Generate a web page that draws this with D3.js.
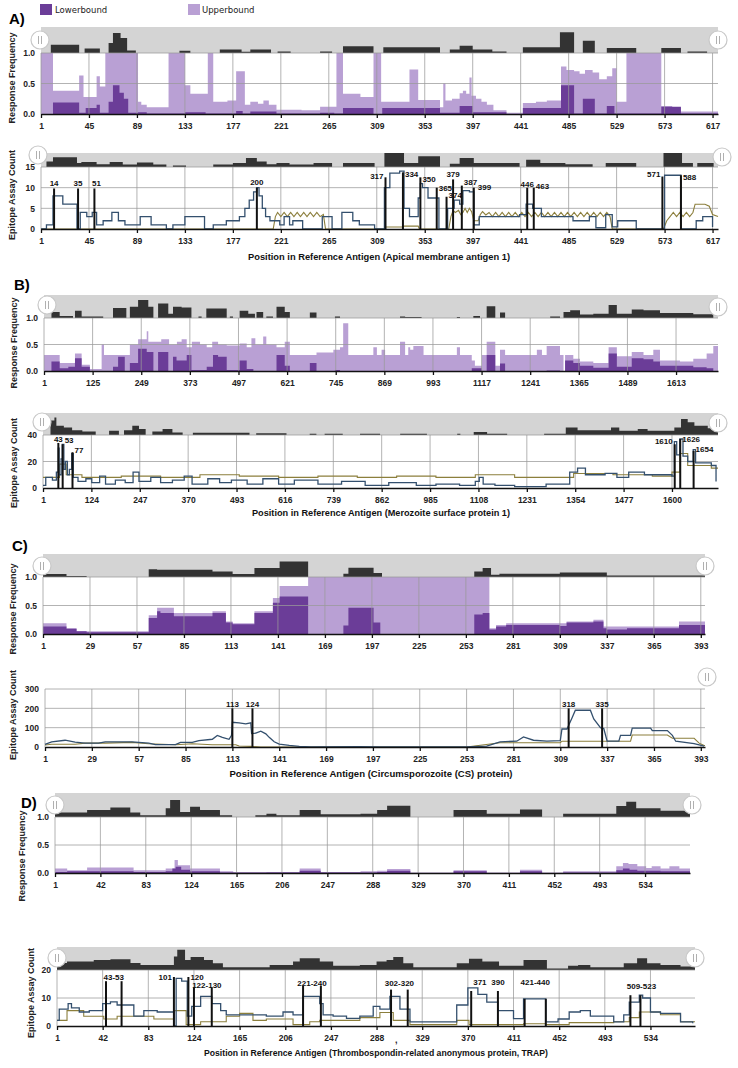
<!DOCTYPE html>
<html><head><meta charset="utf-8">
<script src="https://cdn.jsdelivr.net/npm/d3@7"></script>
<style>body{margin:0;background:#fff}</style>
</head><body><script>
// ---------------- DATA ----------------
// Panel A – Apical membrane antigen 1
const aXTicks = [1,45,89,133,177,221,265,309,353,397,441,485,529,573,617];
const aUpper = [[1,1.0],[12,0.38],[36,0.63],[40,0.28],[52,0.62],[55,0.45],[60,1.0],[90,0.2],[93,0.15],[98,0.11],[118,1.0],[133,0.47],[138,0.33],[154,1.0],[159,0.2],[172,0.22],[180,0.7],[188,0.15],[193,0.2],[200,0.17],[205,0.22],[210,0.15],[217,0.07],[240,0.06],[257,0.12],[272,1.0],[278,0.33],[294,0.28],[306,1.0],[313,0.2],[339,0.73],[347,0.23],[367,0.11],[370,0.5],[372,0.22],[378,0.25],[385,0.34],[388,0.38],[391,0.33],[394,0.6],[396,0.3],[400,0.25],[405,0.2],[410,0.15],[416,0.06],[428,0.02],[443,0.18],[455,0.2],[465,0.22],[478,0.78],[483,0.72],[490,0.7],[495,0.66],[500,0.72],[507,0.68],[513,0.57],[520,0.62],[525,0.75],[529,0.2],[538,1.0],[570,0.13],[580,0.1],[588,0.04]];
const aLower = [[1,0],[12,0.19],[36,0.02],[42,0.1],[52,0.15],[55,0.02],[63,0.2],[67,0.47],[73,0.35],[77,0.25],[81,0.02],[90,0.03],[98,0.01],[133,0.03],[152,0.01],[180,0.05],[186,0.01],[193,0.04],[217,0.01],[257,0.02],[270,0.01],[278,0.1],[306,0],[314,0.1],[367,0.02],[385,0.13],[397,0.03],[428,0],[443,0.1],[478,0.47],[490,0.01],[498,0.25],[509,0.01],[520,0.13],[527,0.01],[570,0.12],[588,0.01]];
const aFreqOverview = [[1,0],[10,0.32],[36,0],[41,0.17],[55,0],[63,0.38],[67,0.77],[74,0.58],[80,0.1],[88,0],[128,0.09],[138,0],[165,0.13],[185,0.05],[193,0.13],[212,0],[218,0.06],[230,0],[257,0.06],[268,0],[278,0.26],[306,0],[315,0.22],[367,0],[376,0.13],[385,0.28],[397,0.13],[415,0.06],[428,0],[443,0.22],[477,0.8],[490,0],[498,0.47],[509,0],[520,0.19],[547,0],[570,0.19],[588,0],[594,0.06],[612,0]];
const aCountOverview = [[1,0],[6,0.4],[12,0.69],[34,0.29],[38,0.36],[52,0.2],[64,0.36],[76,0.17],[89,0.33],[104,0.17],[116,0],[122,0.1],[134,0],[159,0.17],[177,0.29],[189,0.64],[199,0.4],[208,0.2],[217,0.29],[229,0.17],[251,0.29],[268,0],[278,0.29],[307,0],[316,1.0],[334,0.29],[347,0.76],[367,0],[376,0.24],[385,0.64],[398,0.29],[440,0],[446,0.52],[459,0.29],[482,0.2],[507,0],[519,0.29],[547,0],[572,1.0],[589,0.29],[599,0],[603,0.29],[618,0]];
const aBlue = [[1,0],[6,1],[12,8],[21,6],[34,0],[37,4],[43,3],[48,4],[52,1],[58,2],[66,4],[72,2],[78,1],[92,3],[102,1],[116,0],[122,1],[133,3],[151,0],[159,1],[171,2],[183,3],[188,5],[192,7],[196,9],[199,10],[201,8],[204,5],[207,3],[211,2],[220,1],[224,3],[229,1],[232,2],[241,0],[259,3],[268,0],[277,4],[287,2],[293,1],[307,0],[316,10],[321,13.5],[330,14],[334,5],[339,3],[347,7.5],[349,11],[351,10],[356,7.5],[366,0],[374,5],[380,7],[385,6],[388,9.3],[394,9],[398,1],[403,3],[440,3.5],[446,6],[452,5],[460,3],[489,2],[504,3],[510,0.3],[519,3.5],[525,0.5],[530,2],[547,0],[573,13],[588,0],[602,2],[608,3],[617,0.5]];
const aOlive = [[1,0],[214,0],[216,3],[218,4],[221,3],[224,4],[227,3],[230,4],[233,3],[236,4],[239,3],[242,4],[245,3],[248,4],[251,3],[254,4],[257,3],[260,3.5],[262,0],[316,0],[317,0.5],[333,0.5],[334,0.7],[347,0.7],[348,0],[375,0],[377,3],[379,4.5],[381,4],[384,4.5],[386,3.5],[388,4],[390,5],[392,4],[394,5],[396,4.2],[398,2],[402,2],[404,3.5],[406,4.2],[409,3.4],[412,4],[415,3],[418,4],[421,3],[424,4],[427,3],[430,4],[433,3],[436,4],[439,3],[442,4],[445,3],[448,4],[451,3],[454,4],[457,3],[460,4],[463,3],[466,4],[469,3],[472,4],[475,3],[478,4],[481,3],[484,4],[487,3],[490,4],[493,3],[496,4],[499,3],[502,4],[505,3],[508,4],[511,3],[514,4],[517,3],[520,4],[523,3],[525,0],[572,0],[575,2],[578,3],[581,4],[584,3],[587,4],[590,3],[593,4],[596,3],[599,4],[601,6],[610,6],[614,5.5],[617,3.5],[622,3]];
const aPeakLabel = ["14","35","51","200","317","334","350","365","374","379","387","399","446","463","571","588"];
const aPeakPos   = [13,35,50,199,317,333,349,364,373,379,387,398,447,453,571,588];
const aPeakTop   = [9.8,9.8,9.8,10,12.5,13.7,12.5,10,7.8,12,10.5,10,10,10,12.7,13];
const aPeakLevel = [11.2,11.2,11.2,11.4,12.7,13.3,12,9.8,8.1,13.3,11.3,10.2,10.9,10.4,13.2,12.5];

// Panel B – Merozoite surface protein 1
const bFreqXTicks = [1,125,249,373,497,621,745,869,993,1117,1241,1365,1489,1613];
const bCountXTicks = [1,124,247,370,493,616,739,862,985,1108,1231,1354,1477,1600];
const bUpper = [[1,0.3],[41,0.15],[80,0.33],[97,0.12],[118,0.04],[148,0.5],[154,0.3],[220,0.5],[241,0.6],[263,0.75],[267,0.55],[300,0.6],[320,0.5],[340,0.55],[352,0.6],[365,0.45],[378,0.55],[399,0.5],[416,0.45],[430,0.55],[445,0.5],[467,0.48],[500,0.52],[518,0.45],[530,0.62],[540,0.5],[560,0.65],[568,0.5],[594,0.45],[615,0.55],[628,0.3],[679,0.3],[696,0.35],[739,0.4],[756,0.45],[764,0.9],[777,0.3],[841,0.45],[850,0.3],[862,0.4],[871,0.3],[909,0.55],[922,0.3],[930,0.45],[935,0.4],[943,0.47],[969,0.3],[1054,0.45],[1062,0.3],[1092,0.2],[1100,0.1],[1118,0.3],[1130,0.55],[1152,0.1],[1164,0.4],[1177,0.3],[1258,0.4],[1271,0.3],[1283,0.47],[1317,0.3],[1326,0.0],[1330,0.3],[1351,0.23],[1368,0.18],[1402,0.15],[1441,0.45],[1462,0.28],[1500,0.36],[1530,0.3],[1555,0.4],[1572,0.2],[1623,0.18],[1657,0.23],[1691,0.33],[1708,0.47]];
const bLower = [[1,0],[20,0.18],[41,0.05],[63,0.08],[80,0.24],[97,0.08],[118,0],[177,0.08],[190,0.27],[207,0],[220,0.15],[241,0.42],[263,0.36],[280,0],[292,0.36],[318,0],[330,0.27],[339,0.2],[365,0.3],[377,0.02],[416,0.08],[432,0.3],[445,0.27],[467,0.02],[500,0.2],[518,0.04],[535,0],[594,0.3],[615,0.1],[628,0],[679,0.15],[696,0],[743,0.02],[756,0],[1092,0.05],[1118,0],[1130,0.3],[1152,0],[1164,0.14],[1177,0],[1283,0.01],[1317,0],[1330,0.2],[1351,0.15],[1368,0.1],[1402,0.06],[1441,0.33],[1462,0.08],[1500,0.24],[1530,0.22],[1555,0.18],[1572,0.1],[1657,0.07],[1691,0.05],[1708,0]];
const bFreqOverview = [[1,0],[20,0.26],[41,0.09],[75,0],[80,0.31],[97,0.07],[152,0],[177,0.44],[211,0],[220,0.49],[241,0.78],[267,0.49],[280,0],[292,0.63],[318,0.19],[330,0.49],[352,0.46],[377,0],[395,0.07],[403,0],[415,0.41],[467,0],[475,0.07],[483,0],[500,0.31],[522,0.19],[539,0],[543,0.26],[560,0],[568,0.07],[585,0],[594,0.49],[615,0.26],[628,0],[679,0.24],[696,0],[743,0.07],[756,0],[909,0.07],[922,0.04],[964,0],[1054,0.04],[1062,0],[1096,0.09],[1113,0],[1130,0.51],[1152,0],[1164,0.24],[1177,0],[1292,0.07],[1317,0],[1326,0.26],[1343,0.34],[1368,0.15],[1402,0.19],[1441,0.56],[1462,0.19],[1500,0.37],[1530,0.34],[1572,0.22],[1657,0.16],[1708,0]];
const bCountOverview = [[1,0],[20,0.66],[30,0.8],[35,0.42],[54,0.34],[75,0.22],[101,0.16],[135,0],[169,0.19],[194,0],[207,0.22],[228,0.42],[245,0.27],[262,0],[279,0.16],[305,0.27],[330,0.11],[356,0],[382,0.1],[475,0.1],[526,0],[543,0.08],[620,0],[679,0.06],[696,0],[717,0.06],[763,0],[807,0.06],[858,0],[909,0.06],[977,0],[1054,0.06],[1062,0],[1096,0.14],[1130,0.06],[1181,0],[1275,0.06],[1330,0.34],[1360,0.22],[1445,0.34],[1466,0.19],[1513,0.27],[1538,0.19],[1606,0.34],[1623,0.73],[1640,0.58],[1657,0.42],[1691,0.31],[1717,0]];
const bBlue = [[1,2],[8,8],[25,6],[35,12],[40,30],[42,10],[47,22],[50,33],[54,14],[58,20],[63,10],[68,14],[74,26],[78,8],[90,5],[110,7],[125,4],[145,9],[160,3],[185,6],[210,4],[230,12],[245,5],[275,8],[300,4],[330,6],[360,9],[380,3],[420,7],[450,4],[480,6],[520,3],[560,7],[600,3],[640,6],[700,3],[760,5],[820,2],[880,4],[950,2],[1000,3],[1060,2],[1100,5],[1110,8],[1120,3],[1150,2],[1200,1],[1280,3],[1340,12],[1360,15],[1380,10],[1430,11],[1460,8],[1490,12],[1530,10],[1600,9],[1606,35],[1612,25],[1620,37],[1628,24],[1640,20],[1654,29],[1660,19],[1700,17],[1712,5]];
const bOlive = [[1,8],[40,8],[43,18],[60,10],[100,8],[200,9],[300,8],[400,10],[500,9],[600,8],[700,9],[800,8],[900,9],[1000,8],[1100,10],[1200,8],[1350,11],[1450,10],[1550,9],[1600,12],[1620,26],[1640,17],[1700,15]];
const bPeakLabel = ["43","53","77","1610","1626","1654"];
const bPeakPos   = [40,51,76,1607,1621,1655];
const bPeakTop   = [34,33,27,33,37,28];
const bPeakLevel = [37,35.7,28.7,35,36.8,29.4];

// Panel C – Circumsporozoite (CS) protein
const cXTicks = [1,29,57,85,113,141,169,197,225,253,281,309,337,365,393];
const cUpper = [[1,0.19],[15,0.1],[21,0.05],[64,0.33],[69,0.46],[79,0.37],[102,0.4],[110,0.22],[114,0.19],[127,0.4],[138,0.63],[142,0.84],[159,1.0],[267,0.1],[271,0.16],[277,0.19],[313,0.22],[329,0.25],[335,0.13],[380,0.22]];
const cLower = [[1,0.13],[15,0.09],[21,0.05],[27,0.03],[64,0.28],[69,0.4],[71,0.37],[79,0.31],[102,0.37],[110,0.2],[114,0.17],[127,0.37],[138,0.55],[142,0.66],[159,0],[180,0.15],[183,0.46],[198,0.2],[202,0],[258,0.34],[263,0.37],[267,0.08],[271,0.13],[277,0.16],[309,0.14],[313,0.2],[329,0.22],[335,0.1],[337,0.08],[349,0.1],[380,0.16]];
const cFreqOverview = [[1,0.13],[15,0.04],[27,0],[64,0.34],[69,0.31],[102,0.24],[114,0.13],[127,0.39],[142,0.67],[159,0],[180,0.14],[183,0.4],[198,0.17],[203,0],[258,0.24],[263,0.39],[268,0.1],[273,0.14],[309,0.2],[337,0.07]];
const cBlue = [[1,14],[5,27],[13,35],[19,25],[25,20],[33,20],[37,27],[53,27],[63,20],[67,12],[79,12],[82,24],[89,24],[93,33],[101,40],[104,60],[107,50],[111,40],[112.5,60],[113,128],[117,125],[121,120],[124,125],[124.5,70],[127,72],[130,82],[133,68],[135,50],[138,27],[141,15],[147,8],[153,3],[160,0],[189,2],[201,1],[253,0],[265,5],[273,27],[283,30],[287,52],[293,35],[301,30],[309,33],[310,93],[313,93],[316,150],[318,190],[327,190],[329,145],[333,100],[335,95],[337,30],[344,30],[345,60],[351,60],[352,98],[363,98],[364,85],[373,85],[376,60],[378,30],[389,17],[395,5]];
const cOlive = [[1,10],[5,14],[19,14],[25,20],[37,20],[53,24],[63,17],[79,12],[89,17],[101,12],[115,12],[117,5],[124,3],[130,0],[253,0],[273,22],[309,22],[310,30],[351,30],[352,62],[373,62],[376,45],[389,45],[392,20],[395,8]];
const cPeakLabel = ["113","124","318","335"];
const cPeakPos   = [113,125,314,334];
const cPeakTop   = [200,200,200,200];
const cPeakLevel = [222,222,222,222];

// Panel D – TRAP
const dXTicks = [1,42,83,124,165,206,247,288,329,370,411,452,493,534];
const dUpper = [[1,0.08],[12,0.05],[30,0.1],[72,0.05],[101,0.08],[109,0.23],[112,0.14],[123,0.08],[150,0.03],[162,0.01],[192,0.02],[222,0.08],[241,0.02],[277,0.03],[292,0.04],[301,0.07],[322,0.01],[361,0.05],[391,0.01],[421,0.06],[441,0.01],[460,0.03],[508,0.12],[514,0.18],[519,0.16],[527,0.12],[535,0.09],[540,0.12],[548,0.08],[556,0.12],[565,0.08]];
const dLower = [[1,0.02],[12,0.03],[72,0.02],[101,0.03],[107,0.08],[110,0.11],[115,0.06],[123,0.03],[150,0.01],[222,0.04],[241,0.01],[292,0.02],[301,0.04],[322,0],[361,0.03],[391,0],[421,0.03],[441,0],[460,0.01],[508,0.05],[514,0.08],[520,0.06],[527,0.04],[548,0.03]];
const dFreqOverview = [[1,0.19],[30,0.29],[51,0.4],[69,0.19],[78,0.07],[101,0.36],[105,0.71],[114,0.21],[123,0.43],[132,0.29],[150,0.07],[161,0],[182,0.07],[192,0.14],[201,0.07],[222,0.29],[241,0.11],[277,0.14],[292,0.29],[301,0.47],[322,0],[361,0.29],[391,0.14],[421,0.31],[441,0],[460,0.14],[508,0.46],[517,0.64],[526,0.36],[548,0.26]];
const dCountOverview = [[1,0.3],[10,0.37],[34,0.44],[49,0.47],[67,0.3],[76,0.22],[106,0.59],[109,0.88],[116,0.44],[121,0.56],[133,0.44],[141,0.29],[150,0.12],[192,0.22],[213,0.37],[219,0.51],[237,0.37],[249,0.18],[273,0.22],[288,0.37],[297,0.44],[303,0.56],[312,0.29],[321,0.12],[360,0.29],[371,0.49],[383,0.37],[398,0.18],[420,0.44],[441,0.07],[460,0.18],[469,0.22],[480,0.12],[510,0.29],[522,0.51],[531,0.29],[543,0.22],[561,0.15]];
const dBlue = [[1,2],[3,6],[11,8],[14,6.5],[21,5],[30,5.5],[42,8],[49,8.6],[55,7.5],[70,3.5],[79,5.5],[91,5],[106,0],[108,17],[113,16],[118,3.5],[122,7],[130,10.6],[140,8],[148,5.5],[153,4],[189,3.5],[204,5],[213,4],[222,10.6],[237,8],[240,4],[249,3.5],[261,2.7],[273,3.5],[285,7],[291,6],[300,10.6],[309,6],[318,1.5],[360,7.5],[370,13.6],[379,11.3],[387,8.5],[397,5.5],[411,2.6],[420,9.7],[440,1.5],[451,2.5],[461,5],[471,5.5],[480,3.5],[501,1.5],[510,4],[515,8.5],[524,11],[527,10],[534,5],[543,4.5],[561,1.5],[572,1]];
const dOlive = [[1,2],[10,5.5],[25,3.5],[43,2.5],[55,3.5],[88,2.5],[106,5.5],[117,0.5],[130,1.5],[153,3.5],[165,4.5],[177,2],[189,2.5],[213,0.5],[228,1.5],[237,2],[273,3],[291,4.8],[303,2],[318,0.5],[360,2],[371,0.5],[420,0.8],[440,0.5],[461,1.2],[501,1.5],[515,3],[524,5],[543,4],[561,1.5]];
const dPeakLabel = ["43-53","101","120","122-130","221-240","302-320","371","390","421-440","509-523"];
const dPeakFrom  = [45,106,119,124,222,301,373,397,421,516];
const dPeakTo    = [59,106,119,140,238,316,373,397,440,525];
const dPeakTop   = [16,17.5,17.5,13.8,14.3,13,12.5,12.5,9.7,11];
const dPeakLevel = [17.6,17.6,17.6,14.5,15.2,15.2,15.6,15.6,15.6,14.2];

// ---------------- DRAWING ----------------
const COL = {upper:"#b9a0d4", lower:"#6b3d98", band:"#d4d4d4", over:"#333333", grid:"#9a9a9a", blue:"#34506e", olive:"#8c7f3c"};
const FONT = "'Liberation Sans', Arial, sans-serif";
const svg = d3.select("body").append("svg").attr("width",738).attr("height",1068).style("font-family",FONT);

function withEnd(arr,end){ const d=arr.map(p=>[p[0],p[1]]); if(d[d.length-1][0]<end) d.push([end,d[d.length-1][1]]); return d; }

function frame(c){
  const x=d3.scaleLinear().domain(c.dom).range([c.x0,c.x1]);
  const y=d3.scaleLinear().domain([0,c.yMax]).range([c.plotBot,c.plotTop]);
  const g=svg.append("g");
  if(c.overview){
    g.append("rect").attr("x",c.x0).attr("y",c.bandTop).attr("width",c.x1-c.x0).attr("height",c.bandBot-c.bandTop).attr("fill",COL.band);
    const oy=d3.scaleLinear().domain([0,1]).range([c.bandBot,c.bandTop]);
    g.append("path").attr("d",d3.area().x(d=>x(d[0])).y0(c.bandBot).y1(d=>oy(d[1])).curve(d3.curveStepAfter)(withEnd(c.overview,c.dom[1]))).attr("fill",COL.over);
  }
  return {x,y,g,c};
}
function grid(f){
  const {x,y,g,c}=f;
  g.append("g").selectAll("line").data(c.xTicks).join("line")
    .attr("x1",d=>x(d)).attr("x2",d=>x(d)).attr("y1",c.plotTop).attr("y2",c.plotBot)
    .attr("stroke",COL.grid).attr("stroke-opacity",0.75).attr("stroke-width",1);
  g.append("g").selectAll("line").data(c.yTicks.filter(v=>v>0)).join("line")
    .attr("x1",c.x0).attr("x2",c.x1).attr("y1",d=>y(d)).attr("y2",d=>y(d))
    .attr("stroke",COL.grid).attr("stroke-opacity",0.75).attr("stroke-width",1);
}
function axes(f){
  const {x,y,g,c}=f;
  const ax=g.append("g").attr("transform",`translate(0,${c.plotBot})`)
    .call(d3.axisBottom(x).tickValues(c.xTicks).tickSize(4).tickSizeOuter(0).tickPadding(5).tickFormat(d3.format("d")));
  ax.select(".domain").attr("stroke","#111").attr("stroke-width",1.6);
  ax.selectAll(".tick line").attr("stroke","#111").attr("stroke-width",1.3);
  ax.selectAll("text").attr("font-size",8.5).attr("font-weight","bold").attr("fill","#222").attr("font-family",FONT);
  const ay=g.append("g").attr("transform",`translate(${c.x0},0)`)
    .call(d3.axisLeft(y).tickValues(c.yTicks).tickSize(0).tickPadding(6).tickFormat(c.yFmt));
  ay.select(".domain").remove();
  ay.selectAll("text").attr("font-size",8.5).attr("font-weight","bold").attr("fill","#222").attr("font-family",FONT);
  g.append("text").attr("transform",`translate(${c.titleX},${c.titleY}) rotate(-90)`)
    .attr("text-anchor","middle").attr("dy","0.35em").attr("font-size",9).attr("font-weight","bold").attr("fill","#222").text(c.yTitle);
  if(c.xTitle){
    g.append("text").attr("x",c.xTitleX).attr("y",c.xTitleY).attr("text-anchor","middle")
      .attr("font-size",9.5).attr("font-weight","bold").attr("fill","#111")
      .attr("textLength",c.xTitleW).attr("lengthAdjust","spacingAndGlyphs").text(c.xTitle);
  }
  (c.handles||[]).forEach(h=>{
    const hg=svg.append("g");
    hg.append("circle").attr("cx",h[0]).attr("cy",h[1]).attr("r",9).attr("fill","#fff").attr("stroke","#c8c8c8").attr("stroke-width",1.2);
    [-1.5,1.5].forEach(dx=>hg.append("line").attr("x1",h[0]+dx).attr("x2",h[0]+dx).attr("y1",h[1]-4).attr("y2",h[1]+4).attr("stroke","#b0b0b0").attr("stroke-width",1));
  });
}
function freqChart(c,upper,lower){
  c.yMax=1; c.yTicks=[0,0.5,1]; c.yFmt=d3.format(".1f"); c.yTitle="Response Frequency";
  const f=frame(c);
  const area=d3.area().x(d=>f.x(d[0])).y0(f.y(0)).y1(d=>f.y(d[1])).curve(d3.curveStepAfter);
  f.g.append("path").attr("d",area(withEnd(upper,c.dom[1]))).attr("fill",COL.upper);
  f.g.append("path").attr("d",area(withEnd(lower,c.dom[1]))).attr("fill",COL.lower);
  grid(f); axes(f);
  return f;
}
function countChart(c,blue,olive,pk){
  c.yFmt=d3.format("d"); c.yTitle="Epitope Assay Count";
  const f=frame(c);
  grid(f);
  const curveB = c.linear ? d3.curveLinear : d3.curveStepAfter;
  const curveO = c.oliveLinear||c.linear ? d3.curveLinear : d3.curveStepAfter;
  f.g.append("path").attr("d",d3.line().x(d=>f.x(d[0])).y(d=>f.y(d[1])).curve(curveO)(withEnd(olive,c.dom[1])))
    .attr("fill","none").attr("stroke",COL.olive).attr("stroke-width",1.1);
  f.g.append("path").attr("d",d3.line().x(d=>f.x(d[0])).y(d=>f.y(d[1])).curve(curveB)(blue))
    .attr("fill","none").attr("stroke",COL.blue).attr("stroke-width",1.3);
  pk.label.forEach((lab,i)=>{
    const ps=[pk.from[i]]; if(pk.to[i]!==pk.from[i]) ps.push(pk.to[i]);
    ps.forEach(p=>f.g.append("line").attr("x1",f.x(p)).attr("x2",f.x(p)).attr("y1",f.y(0)).attr("y2",f.y(pk.top[i]))
      .attr("stroke","#111").attr("stroke-width",2));
    const a=(pk.anchor&&pk.anchor[lab])||["middle",0];
    let px = a[0]==="middle" ? (f.x(pk.from[i])+f.x(pk.to[i]))/2 : (a[0]==="start" ? f.x(pk.to[i])+2 : f.x(pk.from[i])-2);
    f.g.append("text").attr("x",px+a[1]).attr("y",f.y(pk.level[i])).attr("dy","0.35em")
      .attr("text-anchor",a[0]).attr("font-size",8).attr("font-weight","bold").attr("fill","#111").text(lab);
  });
  axes(f);
  return f;
}
function panelLabel(t,x,y){ svg.append("text").attr("x",x).attr("y",y).attr("font-size",15).attr("font-weight","bold").attr("fill","#000").text(t); }

// Legend
svg.append("rect").attr("x",40).attr("y",4).attr("width",12).attr("height",11).attr("fill",COL.lower);
svg.append("text").attr("x",55).attr("y",13).attr("font-size",8.5).attr("fill","#222").attr("font-family","'DejaVu Sans',sans-serif").text("Lowerbound");
svg.append("rect").attr("x",188).attr("y",4).attr("width",12).attr("height",11).attr("fill",COL.upper);
svg.append("text").attr("x",202).attr("y",13).attr("font-size",8.5).attr("fill","#222").attr("font-family","'DejaVu Sans',sans-serif").text("Upperbound");

// ---- A
panelLabel("A)",9,24);
freqChart({x0:41,x1:718,dom:[1,622],bandTop:27,bandBot:53,plotTop:53,plotBot:114,xTicks:aXTicks,overview:aFreqOverview,titleX:12,titleY:78,handles:[[40,40],[718,40]]},aUpper,aLower);
countChart({x0:41,x1:718,dom:[1,622],bandTop:153,bandBot:167,plotTop:167,plotBot:229,yMax:15,yTicks:[0,5,10,15],xTicks:aXTicks,overview:aCountOverview,titleX:12,titleY:195,oliveLinear:true,
  xTitle:"Position in Reference Antigen (Apical membrane antigen 1)",xTitleX:379,xTitleY:260,xTitleW:262,handles:[[38,155],[722,157]]},
  aBlue,aOlive,{label:aPeakLabel,from:aPeakPos,to:aPeakPos,top:aPeakTop,level:aPeakLevel,
  anchor:{"51":["middle",2],"317":["end",0],"334":["start",0],"350":["start",0],"365":["start",0],"374":["start",0],"387":["start",0],"399":["start",2],"463":["start",0],"571":["end",0],"588":["start",0]}});

// ---- B
panelLabel("B)",14,290);
freqChart({x0:44,x1:718,dom:[1,1720],bandTop:295,bandBot:318,plotTop:318,plotBot:371,xTicks:bFreqXTicks,overview:bFreqOverview,titleX:14,titleY:343,handles:[[47,305],[718,307]]},bUpper,bLower);
countChart({x0:43,x1:718,dom:[1,1717],bandTop:413,bandBot:435,plotTop:435,plotBot:488,yMax:40,yTicks:[0,20,40],xTicks:bCountXTicks,overview:bCountOverview,titleX:14,titleY:463,
  xTitle:"Position in Reference Antigen (Merozoite surface protein 1)",xTitleX:381,xTitleY:516,xTitleW:258,handles:[[42,422],[718,423]]},
  bBlue,bOlive,{label:bPeakLabel,from:bPeakPos,to:bPeakPos,top:bPeakTop,level:bPeakLevel,
  anchor:{"53":["start",0],"77":["start",0],"1610":["end",0],"1626":["start",0],"1654":["start",0]}});

// ---- C
panelLabel("C)",12,551);
freqChart({x0:43,x1:705,dom:[1,395.5],bandTop:554,bandBot:577,plotTop:577,plotBot:634,xTicks:cXTicks,overview:cFreqOverview,titleX:13,titleY:609,handles:[[42,566],[705,566]]},cUpper,cLower);
countChart({x0:45,x1:705,dom:[1,395.5],bandTop:667,bandBot:689,plotTop:689,plotBot:747,yMax:300,yTicks:[0,100,200,300],xTicks:cXTicks,overview:null,titleX:13,titleY:715,linear:true,
  xTitle:"Position in Reference Antigen (Circumsporozoite (CS) protein)",xTitleX:371,xTitleY:777,xTitleW:283,handles:[[707,677]]},
  cBlue,cOlive,{label:cPeakLabel,from:cPeakPos,to:cPeakPos,top:cPeakTop,level:cPeakLevel});

// ---- D
panelLabel("D)",21,808);
freqChart({x0:55,x1:690,dom:[1,574.6],bandTop:793,bandBot:817,plotTop:817,plotBot:873,xTicks:dXTicks,overview:dFreqOverview,titleX:22,titleY:856,handles:[[55,805],[692,805]]},dUpper,dLower);
countChart({x0:57,x1:695,dom:[1,574],bandTop:947,bandBot:970,plotTop:970,plotBot:1026,yMax:20,yTicks:[0,10,20],xTicks:dXTicks,overview:dCountOverview,titleX:31,titleY:993,
  xTitle:"Position in Reference Antigen (Thrombospondin-related anonymous protein, TRAP)",xTitleX:376,xTitleY:1056,xTitleW:344,handles:[[57,958],[695,958]]},
  dBlue,dOlive,{label:dPeakLabel,from:dPeakFrom,to:dPeakTo,top:dPeakTop,level:dPeakLevel,
  anchor:{"101":["end",0],"120":["start",0],"122-130":["middle",4],"371":["start",0],"509-523":["middle",6]}});
svg.append("text").attr("x",395).attr("y",1043).attr("font-size",9).attr("font-weight","bold").attr("fill","#222").text(",");
</script></body></html>
